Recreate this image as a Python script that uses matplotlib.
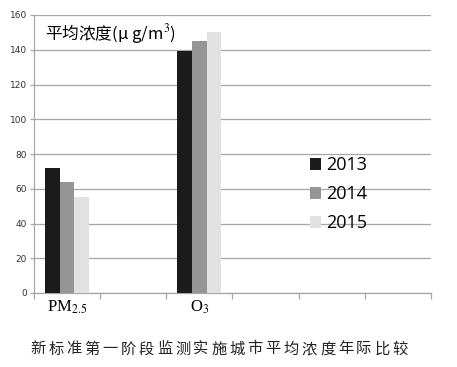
import numpy as np
import matplotlib
matplotlib.use("Agg")
import matplotlib.pyplot as plt

plt.rcParams['font.family'] = ['Liberation Serif', 'Noto Sans CJK SC', 'DejaVu Sans']
plt.rcParams['mathtext.fontset'] = 'stix'

# data
categories = ["PM$_{2.5}$", "", "O$_3$", "", "", ""]
years = ["2013", "2014", "2015"]
val_2013 = [72, 0, 139, 0, 0, 0]
val_2014 = [64, 0, 145, 0, 0, 0]
val_2015 = [55, 0, 150, 0, 0, 0]
colors = ["#1b1b1b", "#959595", "#e2e2e2"]
y_ticks = [0, 20, 40, 60, 80, 100, 120, 140, 160]

fig = plt.figure(figsize=(4.57, 3.67), dpi=100)
ax = fig.add_axes([34 / 457, 1 - 293 / 367, 397 / 457, 278 / 367])

x = np.arange(len(categories))
w = 0.222
series = [val_2013, val_2014, val_2015]
for i, (vals, yr, c) in enumerate(zip(series, years, colors)):
    ax.bar(x + (i - 1) * w, vals, width=w, color=c, label=yr, zorder=3, linewidth=0)

ax.set_xlim(-0.5, len(categories) - 0.5)
ax.set_ylim(0, 160)
ax.set_yticks(y_ticks)
ax.set_yticklabels([str(t) for t in y_ticks], fontsize=6.5, family='DejaVu Sans', color="#333333")
ax.grid(axis="y", color="#a6a6a6", linewidth=0.9, zorder=0)

ax.set_xticks(x)
ax.set_xticklabels(categories, fontsize=12)
ax.set_xticks(np.arange(len(categories) + 1) - 0.5, minor=True)
ax.tick_params(axis="x", which="major", length=0, pad=4)
ax.tick_params(axis="x", which="minor", length=4, color="#a6a6a6", width=0.9)
ax.tick_params(axis="y", length=3, color="#a6a6a6", width=0.9, pad=2)

for s in ["top", "right"]:
    ax.spines[s].set_visible(False)
for s in ["left", "bottom"]:
    ax.spines[s].set_color("#a6a6a6")
    ax.spines[s].set_linewidth(0.9)

leg = ax.legend(loc="center left", bbox_to_anchor=(0.655, 0.355), frameon=False,
                prop={'family': 'Open Sans', 'size': 13}, handlelength=0.6, handleheight=0.6,
                handletextpad=0.3, labelspacing=0.6)

ax.text(0.028, 0.93, "平均浓度(μ g/m$^3$)", transform=ax.transAxes, fontsize=12,
        family=['Noto Sans CJK SC', 'DejaVu Sans'], va="center", ha="left")

caption = "新标准第一阶段监测实施城市平均浓度年际比较"
x0, x1 = 38 / 457, 400 / 457
for k, ch in enumerate(caption):
    fig.text(x0 + k * (x1 - x0) / (len(caption) - 1), 1 - 349 / 367, ch, fontsize=11,
             family=['Noto Sans CJK SC'], ha="center", va="center", color="#222222")

fig.savefig("out.png", dpi=100)
